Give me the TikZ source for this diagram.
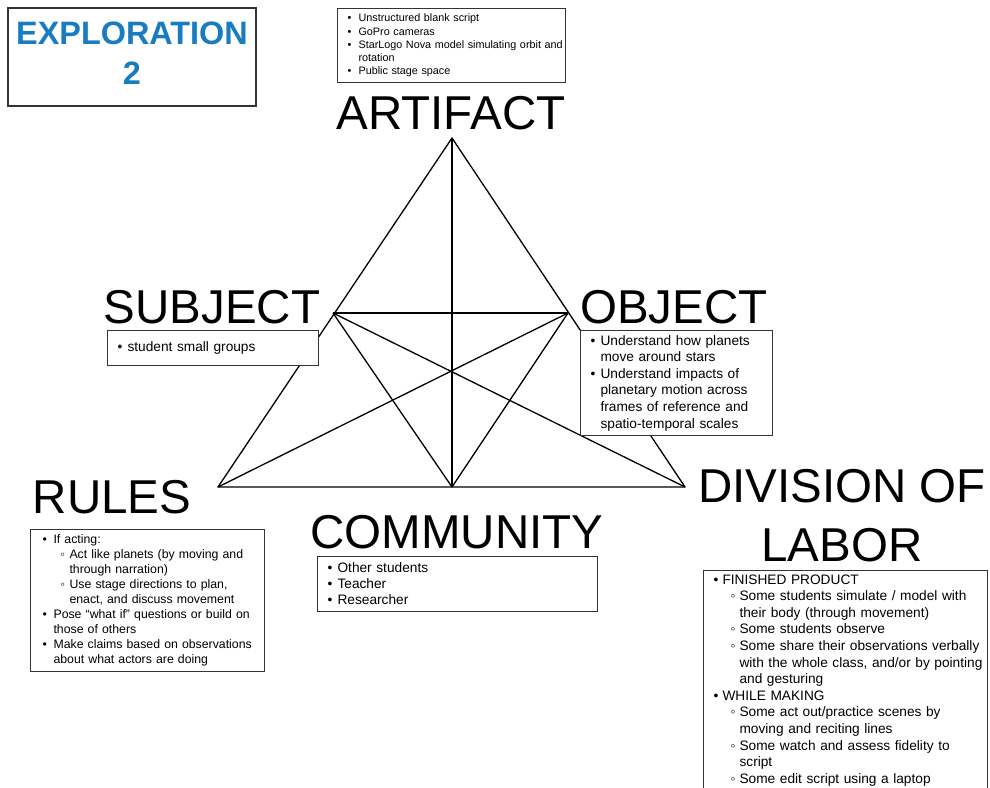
\documentclass[tikz,border=0pt]{standalone}
\usepackage{fontspec}
\setmainfont{Liberation Sans}
\usetikzlibrary{positioning}
\definecolor{explblue}{RGB}{24,124,192}
\newcommand\bu[1]{\makebox[#1][l]{\textbullet}}
\newcommand\wb[1]{\makebox[#1][l]{\symbol{"25E6}}}
\tikzset{
  tri/.style  ={draw=black, line width=1.3pt, line join=round},
  box/.style  ={rectangle, draw=black!80, line width=1.1pt, fill=white,
                inner xsep=0pt, inner ysep=4pt, anchor=north west, align=left},
  lbl/.style  ={font=\fontsize{47.5}{59}\selectfont, inner sep=0pt},
}
\begin{document}
\begin{tikzpicture}[x=1pt, y=-1pt]
  \useasboundingbox (0,0) rectangle (990,787);

  % triangle corners
  \coordinate (vA) at (452,138);
  \coordinate (vS) at (333,313);
  \coordinate (vO) at (568,313);
  \coordinate (vR) at (218,487);
  \coordinate (vC) at (452,487);
  \coordinate (vD) at (685,487);

  % triangle and inner lines
  \draw[tri] (vA) -- (vR) -- (vD) -- cycle;
  \draw[tri] (vS) -- (vO);
  \draw[tri] (vA) -- (vC);
  \draw[tri] (vS) -- (vC);
  \draw[tri] (vS) -- (vD);
  \draw[tri] (vO) -- (vC);
  \draw[tri] (vO) -- (vR);

  % title
  \node[draw=black!80, line width=1.1pt, minimum width=248pt, minimum height=98pt,
        text depth=7pt, align=center, text=explblue,
        font=\fontsize{32.4}{40}\selectfont\bfseries] (title) at (132,57) {EXPLORATION\\2};

  % artifact
  \node[box, text width=228pt, minimum height=74pt, font=\fontsize{10.8}{13.3}\selectfont]
       (artbox) at (337,8) {%
    \hspace*{10pt}\bu{11pt}Unstructured blank script\\
    \hspace*{10pt}\bu{11pt}GoPro cameras\\
    \hspace*{10pt}\bu{11pt}\mbox{StarLogo Nova model simulating orbit and}\\
    \hspace*{21pt}rotation\\
    \hspace*{10pt}\bu{11pt}Public stage space};
  \node[lbl, anchor=base] (artlbl) at (451,129) {ARTIFACT};

  % subject
  \node[box, text width=211pt, minimum height=35pt, font=\fontsize{13.7}{16.6}\selectfont]
       (subjbox) at (107,330) {%
    \hspace*{10pt}\bu{10pt}student small groups};
  \node[lbl, anchor=base] (subjlbl) at (212,323) {SUBJECT};

  % object
  \node[box, text width=192pt, minimum height=105pt, font=\fontsize{13.7}{16.6}\selectfont]
       (objbox) at (580,330) {%
    \hspace*{10pt}\bu{10pt}Understand how planets\\
    \hspace*{20pt}move around stars\\
    \hspace*{10pt}\bu{10pt}Understand impacts of\\
    \hspace*{20pt}planetary motion across\\
    \hspace*{20pt}frames of reference and\\
    \hspace*{20pt}spatio-temporal scales};
  \node[lbl, anchor=base] (objlbl) at (674,323) {OBJECT};

  % rules
  \node[box, text width=234pt, minimum height=142pt, font=\fontsize{12.3}{15}\selectfont]
       (rulbox) at (30,529) {%
    \hspace*{12pt}\bu{11pt}If acting:\\
    \hspace*{30pt}\wb{9pt}Act like planets (by moving and\\
    \hspace*{39pt}through narration)\\
    \hspace*{30pt}\wb{9pt}Use stage directions to plan,\\
    \hspace*{39pt}enact, and discuss movement\\
    \hspace*{12pt}\bu{11pt}Pose “what if” questions or build on\\
    \hspace*{23pt}those of others\\
    \hspace*{12pt}\bu{11pt}Make claims based on observations\\
    \hspace*{23pt}about what actors are doing};
  \node[lbl, anchor=base] (rullbl) at (112,513) {RULES};

  % community
  \node[box, text width=280pt, minimum height=55pt, font=\fontsize{13.7}{16}\selectfont]
       (combox) at (317,556) {%
    \hspace*{10pt}\bu{10pt}Other students\\
    \hspace*{10pt}\bu{10pt}Teacher\\
    \hspace*{10pt}\bu{10pt}Researcher};
  \node[lbl, anchor=base] (comlbl) at (457,548) {COMMUNITY};

  % division of labor (box runs off the page)
  \node[box, text width=284pt, font=\fontsize{13.7}{16.6}\selectfont]
       (divbox) at (703,570) {%
    \hspace*{10pt}\bu{9pt}FINISHED PRODUCT\\
    \hspace*{27pt}\wb{9pt}Some students simulate / model with\\
    \hspace*{36pt}their body (through movement)\\
    \hspace*{27pt}\wb{9pt}Some students observe\\
    \hspace*{27pt}\wb{9pt}Some share their observations verbally\\
    \hspace*{36pt}\mbox{with the whole class, and/or by pointing}\\
    \hspace*{36pt}and gesturing\\
    \hspace*{10pt}\bu{9pt}WHILE MAKING\\
    \hspace*{27pt}\wb{9pt}Some act out/practice scenes by\\
    \hspace*{36pt}moving and reciting lines\\
    \hspace*{27pt}\wb{9pt}Some watch and assess fidelity to\\
    \hspace*{36pt}script\\
    \hspace*{27pt}\wb{9pt}Some edit script using a laptop\\[8pt]};
  \node[lbl, anchor=north, align=center] (divlbl) at (842,469) {DIVISION OF\\LABOR};
\end{tikzpicture}
\end{document}
